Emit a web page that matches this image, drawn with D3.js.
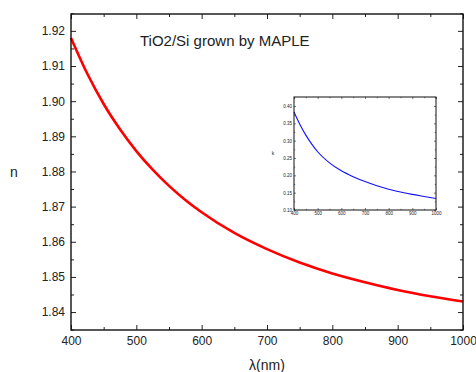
<!DOCTYPE html>
<html>
<head>
<meta charset="utf-8">
<script src="https://cdn.jsdelivr.net/npm/d3@7"></script>
<style>
  body { margin: 0; background: #fff; }
  svg text { font-family: Arial, "Liberation Sans", sans-serif; fill: #222; }
</style>
</head>
<body>
<svg id="chart" width="476" height="372"></svg>
<script>
// refractive index n
const wavelength = [400, 425, 450, 475, 500, 525, 550, 575, 600, 650, 700, 750, 800, 850, 900, 950, 1000];
const nValues = [1.918, 1.9078, 1.8992, 1.8920, 1.8858, 1.8805, 1.8759, 1.8719, 1.8684, 1.8625, 1.8579, 1.8541, 1.8510, 1.8485, 1.8463, 1.8445, 1.8430];

// extinction coefficient k (inset)
const kWavelength = [400, 425, 450, 475, 500, 550, 600, 650, 700, 750, 800, 850, 900, 950, 1000];
const kValues = [0.383, 0.347, 0.316, 0.290, 0.268, 0.236, 0.213, 0.196, 0.182, 0.170, 0.160, 0.152, 0.145, 0.139, 0.133];

const xTicks = [400, 500, 600, 700, 800, 900, 1000];
const nTicks = [1.84, 1.85, 1.86, 1.87, 1.88, 1.89, 1.90, 1.91, 1.92];
const kTicks = [0.10, 0.15, 0.20, 0.25, 0.30, 0.35, 0.40];

const svg = d3.select("#chart");

// draws a boxed frame with inward ticks on all four sides
const drawFrame = function (g, x, y, opt) {
    const [x0, x1] = x.range();
    const [y1, y0] = y.range();

    g.append("g").attr("transform", `translate(0,${y1})`)
        .call(d3.axisBottom(x).tickValues(opt.xTicks).tickSize(-opt.major).tickPadding(opt.pad).tickFormat(d3.format("d")));
    g.append("g").attr("transform", `translate(0,${y0})`)
        .call(d3.axisTop(x).tickValues(opt.xTicks).tickSize(-opt.major).tickFormat(""));
    g.append("g").attr("transform", `translate(${x0},0)`)
        .call(d3.axisLeft(y).tickValues(opt.yTicks).tickSize(-opt.major).tickPadding(opt.pad).tickFormat(d3.format(".2f")));
    g.append("g").attr("transform", `translate(${x1},0)`)
        .call(d3.axisRight(y).tickValues(opt.yTicks).tickSize(-opt.major).tickFormat(""));

    // minor ticks
    g.append("g").attr("transform", `translate(0,${y1})`)
        .call(d3.axisBottom(x).tickValues(opt.xMinor).tickSize(-opt.minor).tickFormat(""));
    g.append("g").attr("transform", `translate(0,${y0})`)
        .call(d3.axisTop(x).tickValues(opt.xMinor).tickSize(-opt.minor).tickFormat(""));
    g.append("g").attr("transform", `translate(${x0},0)`)
        .call(d3.axisLeft(y).tickValues(opt.yMinor).tickSize(-opt.minor).tickFormat(""));
    g.append("g").attr("transform", `translate(${x1},0)`)
        .call(d3.axisRight(y).tickValues(opt.yMinor).tickSize(-opt.minor).tickFormat(""));

    g.selectAll(".domain").remove();
    g.selectAll(".tick line").attr("stroke", "#222").attr("stroke-width", opt.tickWidth);
    g.selectAll(".tick text").attr("font-size", opt.font).attr("fill", "#222")
        .attr("font-family", "Arial, 'Liberation Sans', sans-serif");

    g.append("rect")
        .attr("x", x0).attr("y", y0)
        .attr("width", x1 - x0).attr("height", y1 - y0)
        .attr("fill", "none").attr("stroke", "#111").attr("stroke-width", opt.frameWidth);
};

// ---- main plot ----
const x = d3.scaleLinear().domain([400, 1000]).range([71, 463]);
const y = d3.scaleLinear().domain([1.8349, 1.9248]).range([330, 14]);

const main = svg.append("g");

main.append("path")
    .datum(wavelength.map((w, i) => [w, nValues[i]]))
    .attr("fill", "none")
    .attr("stroke", "#ff0000")
    .attr("stroke-width", 2.6)
    .attr("d", d3.line().x(d => x(d[0])).y(d => y(d[1])).curve(d3.curveMonotoneX));

drawFrame(main, x, y, {
    xTicks: xTicks,
    yTicks: nTicks,
    xMinor: d3.range(450, 1000, 100),
    yMinor: d3.range(1.835, 1.925, 0.01).map(v => +v.toFixed(3)),
    major: 5, minor: 3, pad: 6, font: 12,
    tickWidth: 1, frameWidth: 1.4
});

main.append("text")
    .attr("x", 267).attr("y", 370)
    .attr("text-anchor", "middle").attr("font-size", 14)
    .text("λ(nm)");

main.append("text")
    .attr("x", 14).attr("y", 177)
    .attr("text-anchor", "middle").attr("font-size", 14)
    .text("n");

main.append("text")
    .attr("x", 140).attr("y", 46)
    .attr("font-size", 15)
    .text("TiO2/Si grown by MAPLE");

// ---- inset ----
const xi = d3.scaleLinear().domain([400, 1000]).range([294, 436]);
const yi = d3.scaleLinear().domain([0.10, 0.426]).range([210, 97]);

const inset = svg.append("g");
inset.append("rect")
    .attr("x", 294).attr("y", 97).attr("width", 142).attr("height", 113)
    .attr("fill", "#fff");

inset.append("path")
    .datum(kWavelength.map((w, i) => [w, kValues[i]]))
    .attr("fill", "none")
    .attr("stroke", "#1010ff")
    .attr("stroke-width", 1.1)
    .attr("d", d3.line().x(d => xi(d[0])).y(d => yi(d[1])).curve(d3.curveMonotoneX));

drawFrame(inset, xi, yi, {
    xTicks: xTicks,
    yTicks: kTicks,
    xMinor: d3.range(450, 1000, 100),
    yMinor: d3.range(0.125, 0.426, 0.05).map(v => +v.toFixed(3)),
    major: 2, minor: 1.2, pad: 2, font: 4.5,
    tickWidth: 0.6, frameWidth: 1
});

inset.append("text")
    .attr("x", 273).attr("y", 155)
    .attr("text-anchor", "middle").attr("font-size", 5)
    .text("k");
</script>
</body>
</html>
